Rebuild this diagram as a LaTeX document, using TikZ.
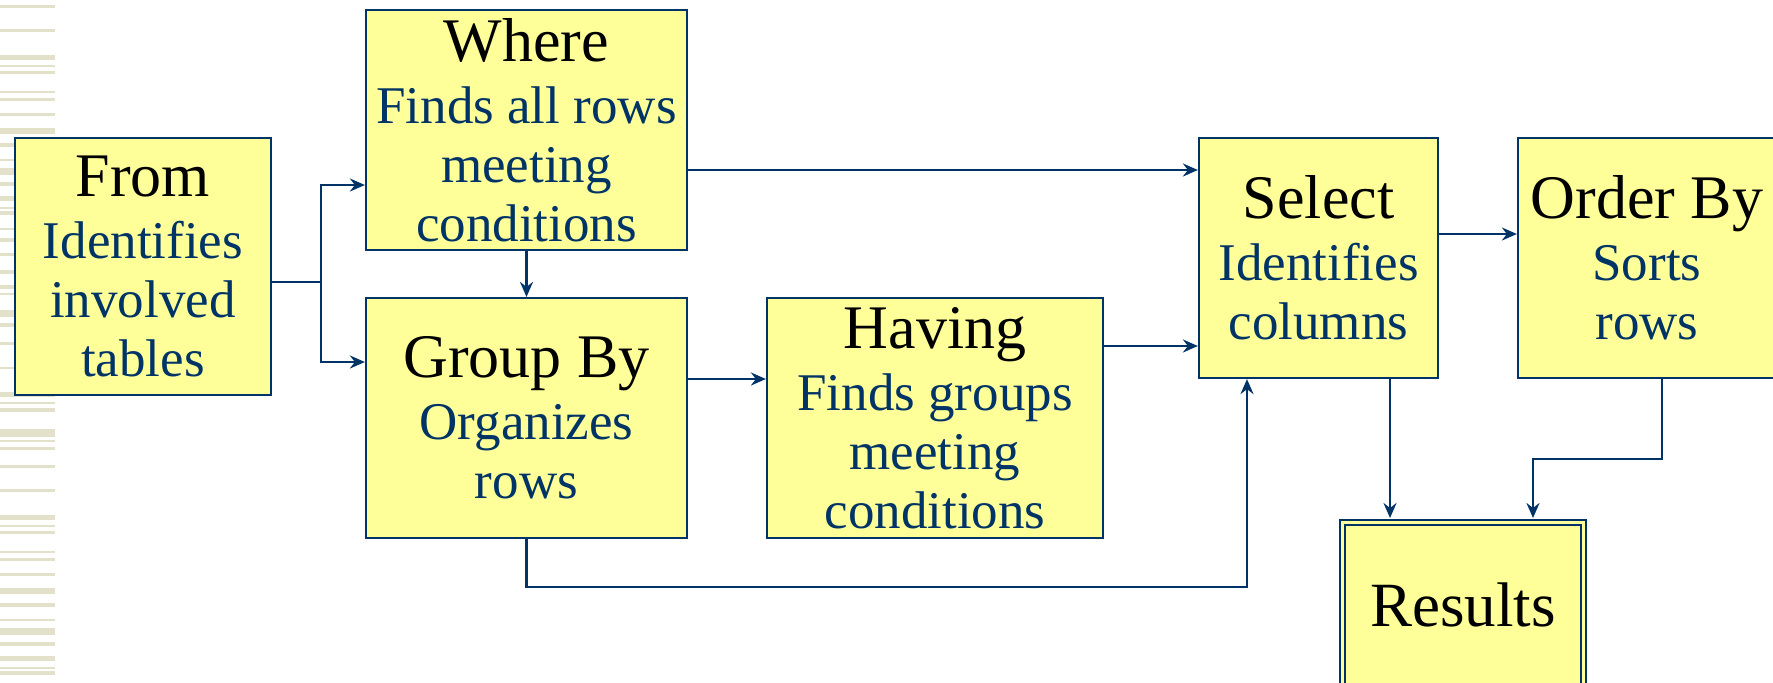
\documentclass[tikz,border=0pt]{standalone}
\usepackage{fontspec}
\setmainfont{Liberation Serif}
\usetikzlibrary{positioning,arrows.meta}
\definecolor{BoxFill}{HTML}{FFFF99}
\definecolor{Navy}{HTML}{003366}
\definecolor{Stripe}{HTML}{E3E1C9}

\tikzset{
  clause/.style={draw=Navy, fill=BoxFill, line width=1.1pt, inner sep=0pt,
    align=center, text=Navy, font=\fontsize{26.5}{29.5}\selectfont},
  flow/.style={draw=Navy, line width=1.2pt,
    -{Stealth[length=7.5pt,width=6.5pt,inset=2.5pt]}},
}
\newcommand{\clausename}[1]{\textcolor{black}{\fontsize{31}{31}\selectfont #1}\\[1.5pt]}

\begin{document}
\begin{tikzpicture}[x=0.5pt,y=-0.5pt]
  \useasboundingbox (0,0) rectangle (1773,682);
  \clip (0,0) rectangle (1773,682);

  % striped margin
  \foreach \off in {0,460}{
    \foreach \y/\h in {5/2.5,29/2.5,55/5,65/2,71/3,91/2,98/3,113/2.5,128/5.5,
                       143/3.5,159/2,168/7,182/3.5,196/5,207/1.5,211/4,228/2,
                       238/4,253/2.5,270/4,285/3.5,293/2,310/7,323/3.5,342/2.5,
                       367/2,392/5,402/2,408/4,429/7.5,440/2,447/2.5}{
      \fill[Stripe] (0,\y+\off) rectangle ++(55,\h);
    }
  }

  % clauses
  \node[clause, minimum width=128pt, minimum height=128.5pt] (from) at (143,266.5)
    {\clausename{From}Identifies\\involved\\tables};
  \node[clause, minimum width=160.5pt, minimum height=120pt] (where) at (526.5,130)
    {\clausename{Where}Finds all rows\\meeting\\conditions};
  \node[clause, minimum width=160.5pt, minimum height=120pt] (group) at (526.5,418)
    {\clausename{Group By}Organizes\\rows};
  \node[clause, minimum width=168pt, minimum height=120pt] (having) at (935,418)
    {\clausename{Having}Finds groups\\meeting\\conditions};
  \node[clause, minimum width=119.5pt, minimum height=120pt] (sel) at (1318.5,258)
    {\clausename{Select}Identifies\\columns};
  \node[clause, minimum width=129pt, minimum height=120pt] (order) at (1647,258)
    {\clausename{Order By}Sorts\\rows};
  \node[clause, line width=1pt, double=BoxFill, double distance=1.5pt,
    minimum width=120.5pt, minimum height=82.5pt] (res) at (1463,605)
    {\textcolor{black}{\fontsize{31.5}{31.5}\selectfont Results}};

  % connectors
  \draw[draw=Navy, line width=1.2pt] ([yshift=-7.75pt]from.east) -- ++(49,0) coordinate (split);
  \draw[flow] (split) |- ([yshift=-27.5pt]where.west);
  \draw[flow] (split) |- ([yshift=28pt]group.west);
  \draw[flow] (where.south) -- (group.north);
  \draw[flow] ([yshift=-20pt]where.east) coordinate (w1) -- (w1 -| sel.west);
  \draw[flow] ([yshift=19.5pt]group.east) coordinate (g1) -- (g1 -| having.west);
  \draw[flow] ([yshift=36pt]having.east) coordinate (h1) -- (h1 -| sel.west);
  \draw[flow] ([yshift=12pt]sel.east) coordinate (s0) -- (s0 -| order.west);
  \draw[flow] (group.south) -- ++(0,48) -| ([xshift=-35.75pt]sel.south);
  \draw[flow, shorten >=1.75pt] ([xshift=35.75pt]sel.south) coordinate (s1) -- (s1 |- res.north);
  \draw[flow, shorten >=1.75pt] ([xshift=7.5pt]order.south) -- ++(0,80) -| ([xshift=35pt]res.north);
\end{tikzpicture}
\end{document}
